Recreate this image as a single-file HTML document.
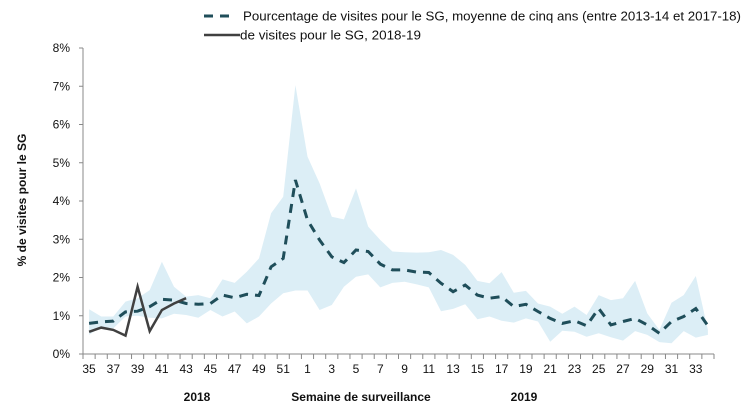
<!DOCTYPE html>
<html><head><meta charset="utf-8"><style>
body{margin:0;background:#fff;}
svg{display:block;font-family:"Liberation Sans",Arial,sans-serif;}
</style></head><body>
<svg id="chart" width="755" height="415" viewBox="0 0 755 415" xmlns="http://www.w3.org/2000/svg">
<g id="band"></g>
<g id="axes"></g>
<g id="series"></g>
<g>
<line x1="204" y1="16" x2="234" y2="16" stroke="#1f4e5a" stroke-width="3" stroke-dasharray="9,7"/>
<text x="243" y="20.5" font-size="13" textLength="498" lengthAdjust="spacingAndGlyphs" fill="#111">Pourcentage de visites pour le SG, moyenne de cinq ans (entre 2013-14 et 2017-18)</text>
<line x1="204" y1="35" x2="240" y2="35" stroke="#404040" stroke-width="2.5"/>
<text x="240" y="39.5" font-size="13" textLength="181" lengthAdjust="spacingAndGlyphs" fill="#111">de visites pour le SG, 2018-19</text>
</g>
<text transform="translate(26,200) rotate(-90)" text-anchor="middle" font-size="12" font-weight="bold" fill="#111">% de visites pour le SG</text>
<text x="361" y="401" text-anchor="middle" font-size="12" font-weight="bold" fill="#111">Semaine de surveillance</text>
<text x="197" y="401" text-anchor="middle" font-size="12" font-weight="bold" fill="#111">2018</text>
<text x="524" y="401" text-anchor="middle" font-size="12" font-weight="bold" fill="#111">2019</text>
</svg>
<script>
const weeks=[35,36,37,38,39,40,41,42,43,44,45,46,47,48,49,50,51,52,1,2,3,4,5,6,7,8,9,10,11,12,13,14,15,16,17,18,19,20,21,22,23,24,25,26,27,28,29,30,31,32,33,34];
const meanVals=[0.80,0.84,0.86,1.10,1.12,1.24,1.43,1.41,1.32,1.30,1.32,1.54,1.47,1.56,1.53,2.28,2.50,4.55,3.50,2.98,2.54,2.39,2.72,2.68,2.35,2.20,2.20,2.14,2.13,1.85,1.63,1.80,1.54,1.46,1.50,1.24,1.30,1.11,0.93,0.80,0.87,0.74,1.19,0.76,0.85,0.93,0.76,0.54,0.85,0.98,1.19,0.74];
const upperVals=[1.17,0.98,0.98,1.37,1.46,1.67,2.41,1.76,1.50,1.54,1.46,1.95,1.86,2.15,2.50,3.68,4.11,7.03,5.16,4.46,3.59,3.52,4.33,3.33,2.98,2.68,2.66,2.65,2.66,2.72,2.59,2.33,1.91,1.85,2.14,1.60,1.65,1.32,1.24,1.05,1.24,1.02,1.54,1.41,1.46,1.91,1.06,0.63,1.34,1.54,2.04,0.63];
const lowerVals=[0.50,0.71,0.67,0.98,1.00,0.95,0.93,1.05,1.02,0.95,1.15,0.98,1.11,0.80,0.98,1.32,1.59,1.66,1.66,1.15,1.28,1.76,2.02,2.08,1.74,1.86,1.89,1.82,1.74,1.12,1.18,1.30,0.91,0.98,0.87,0.82,0.93,0.85,0.32,0.61,0.58,0.45,0.54,0.44,0.35,0.60,0.50,0.31,0.28,0.60,0.43,0.50];
const currentVals=[0.58,0.69,0.63,0.48,1.76,0.60,1.15,1.32,1.46];
const yTicks=[0,1,2,3,4,5,6,7,8];
const yTickLabels=["0%","1%","2%","3%","4%","5%","6%","7%","8%"];

const NS="http://www.w3.org/2000/svg";
const X0=83,X1=714,Y0=354,YTOP=48;
const step=(X1-X0)/weeks.length;
const xPos=i=>X0+step*(i+0.5);
const yPos=v=>Y0-(v/8)*(Y0-YTOP);
function mk(tag,attrs,parent){const e=document.createElementNS(NS,tag);for(const k in attrs)e.setAttribute(k,attrs[k]);parent.appendChild(e);return e;}
const axes=document.getElementById('axes'),band=document.getElementById('band'),series=document.getElementById('series');

let d="M"+upperVals.map((v,i)=>xPos(i).toFixed(1)+","+yPos(v).toFixed(1)).join("L");
for(let i=lowerVals.length-1;i>=0;i--)d+="L"+xPos(i).toFixed(1)+","+yPos(lowerVals[i]).toFixed(1);
d+="Z";
const bp=mk('path',{d:d,fill:"#dceef6"},band);



const ya=mk('line',{x1:X0,y1:YTOP,x2:X0,y2:Y0,stroke:"#888","stroke-width":1},axes);


const xa=mk('line',{x1:X0,y1:Y0,x2:X1,y2:Y0,stroke:"#888","stroke-width":1},axes);


yTicks.forEach((v,i)=>{
  const y=yPos(v);
  mk('line',{x1:X0-4,y1:y,x2:X0,y2:y,stroke:"#888"},axes);
  const t=mk('text',{x:X0-13,y:y+4,"text-anchor":"end","font-size":12,fill:"#111"},axes);
  t.textContent=yTickLabels[i];
  
  
});
for(let i=0;i<=weeks.length;i++){
  const x=X0+step*i;
  mk('line',{x1:x,y1:Y0,x2:x,y2:Y0+5,stroke:"#888"},axes);
}
weeks.forEach((w,i)=>{
  if(i%2!==0)return;
  const t=mk('text',{x:xPos(i),y:373,"text-anchor":"middle","font-size":12,fill:"#111"},axes);
  t.textContent=w;
  
  
});

const mp=mk('polyline',{points:meanVals.map((v,i)=>xPos(i).toFixed(1)+","+yPos(v).toFixed(1)).join(" "),fill:"none",stroke:"#1f4e5a","stroke-width":3,"stroke-dasharray":"9,7"},series);


const cp=mk('polyline',{points:currentVals.map((v,i)=>xPos(i).toFixed(1)+","+yPos(v).toFixed(1)).join(" "),fill:"none",stroke:"#404040","stroke-width":2.5,"stroke-linejoin":"miter"},series);


</script>
</body></html>
